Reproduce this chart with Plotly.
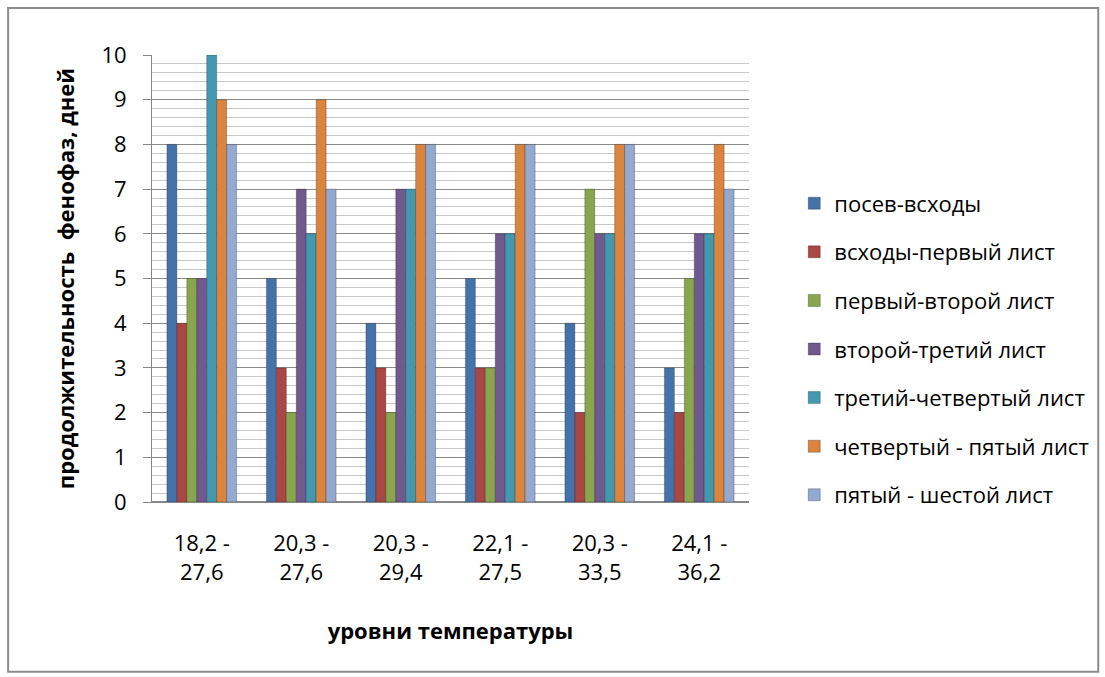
import plotly.graph_objects as go

categories = ["18,2 -<br>27,6", "20,3 -<br>27,6", "20,3 -<br>29,4", "22,1 -<br>27,5", "20,3 -<br>33,5", "24,1 -<br>36,2"]
series_names = ["посев-всходы", "всходы-первый лист", "первый-второй лист", "второй-третий лист",
                "третий-четвертый лист", "четвертый - пятый лист", "пятый - шестой лист"]
posev_vshody = [8, 5, 4, 5, 4, 3]
vshody_perv = [4, 3, 3, 3, 2, 2]
perv_vtor = [5, 2, 2, 3, 7, 5]
vtor_tret = [5, 7, 7, 6, 6, 6]
tret_chetv = [10, 6, 7, 6, 6, 6]
chetv_pyat = [9, 9, 8, 8, 8, 8]
pyat_shest = [8, 7, 8, 8, 8, 7]
values = [posev_vshody, vshody_perv, perv_vtor, vtor_tret, tret_chetv, chetv_pyat, pyat_shest]
colors = ["#4672AA", "#AA4643", "#89A54E", "#71588F", "#4198AF", "#DB843D", "#93A9CF"]

FONT = "Open Sans"
FS = 22
fig = go.Figure()
for i, (name, vals) in enumerate(zip(series_names, values)):
    fig.add_trace(go.Bar(
        x=categories, y=vals, name=name, legendgroup=f"g{i}",
        marker=dict(color=colors[i], line=dict(color="rgba(0,0,0,0.25)", width=1)),
    ))

fig.update_layout(
    width=1105, height=677,
    margin=dict(l=152, r=355, t=55, b=175),
    paper_bgcolor="white", plot_bgcolor="white",
    barmode="group", bargap=0.3, bargroupgap=0,
    font=dict(family=FONT, size=FS, color="#000"),
    legend=dict(x=1.074, y=0.715, xanchor="left", yanchor="top",
                font=dict(family=FONT, size=FS), tracegroupgap=17,
                itemwidth=30, bgcolor="rgba(0,0,0,0)"),
    xaxis=dict(
        title=dict(text="<b>уровни температуры</b>", font=dict(family=FONT, size=FS), standoff=38),
        showline=True, linecolor="#888", linewidth=1,
        tickfont=dict(family=FONT, size=FS), ticks="", ticklabelstandoff=22,
    ),
    yaxis=dict(
        title=dict(text="<b>продолжительность  фенофаз, дней</b>", font=dict(family=FONT, size=FS), standoff=20),
        range=[0, 10], dtick=1, showgrid=True, gridcolor="#8a8a8a", gridwidth=1,
        minor=dict(dtick=0.2, showgrid=True, gridcolor="#c8c8c8", gridwidth=1),
        showline=True, linecolor="#888", linewidth=1,
        ticks="outside", ticklen=8, tickcolor="#888", ticklabelstandoff=12,
        tickfont=dict(family=FONT, size=FS), zeroline=True, zerolinecolor="#888",
    ),
    shapes=[dict(type="rect", xref="paper", yref="paper",
                 x0=-0.241, x1=1.585, y0=-0.380, y1=1.105,
                 line=dict(color="#8c8c8c", width=2), layer="below")],
)

fig.write_html("out.html")
